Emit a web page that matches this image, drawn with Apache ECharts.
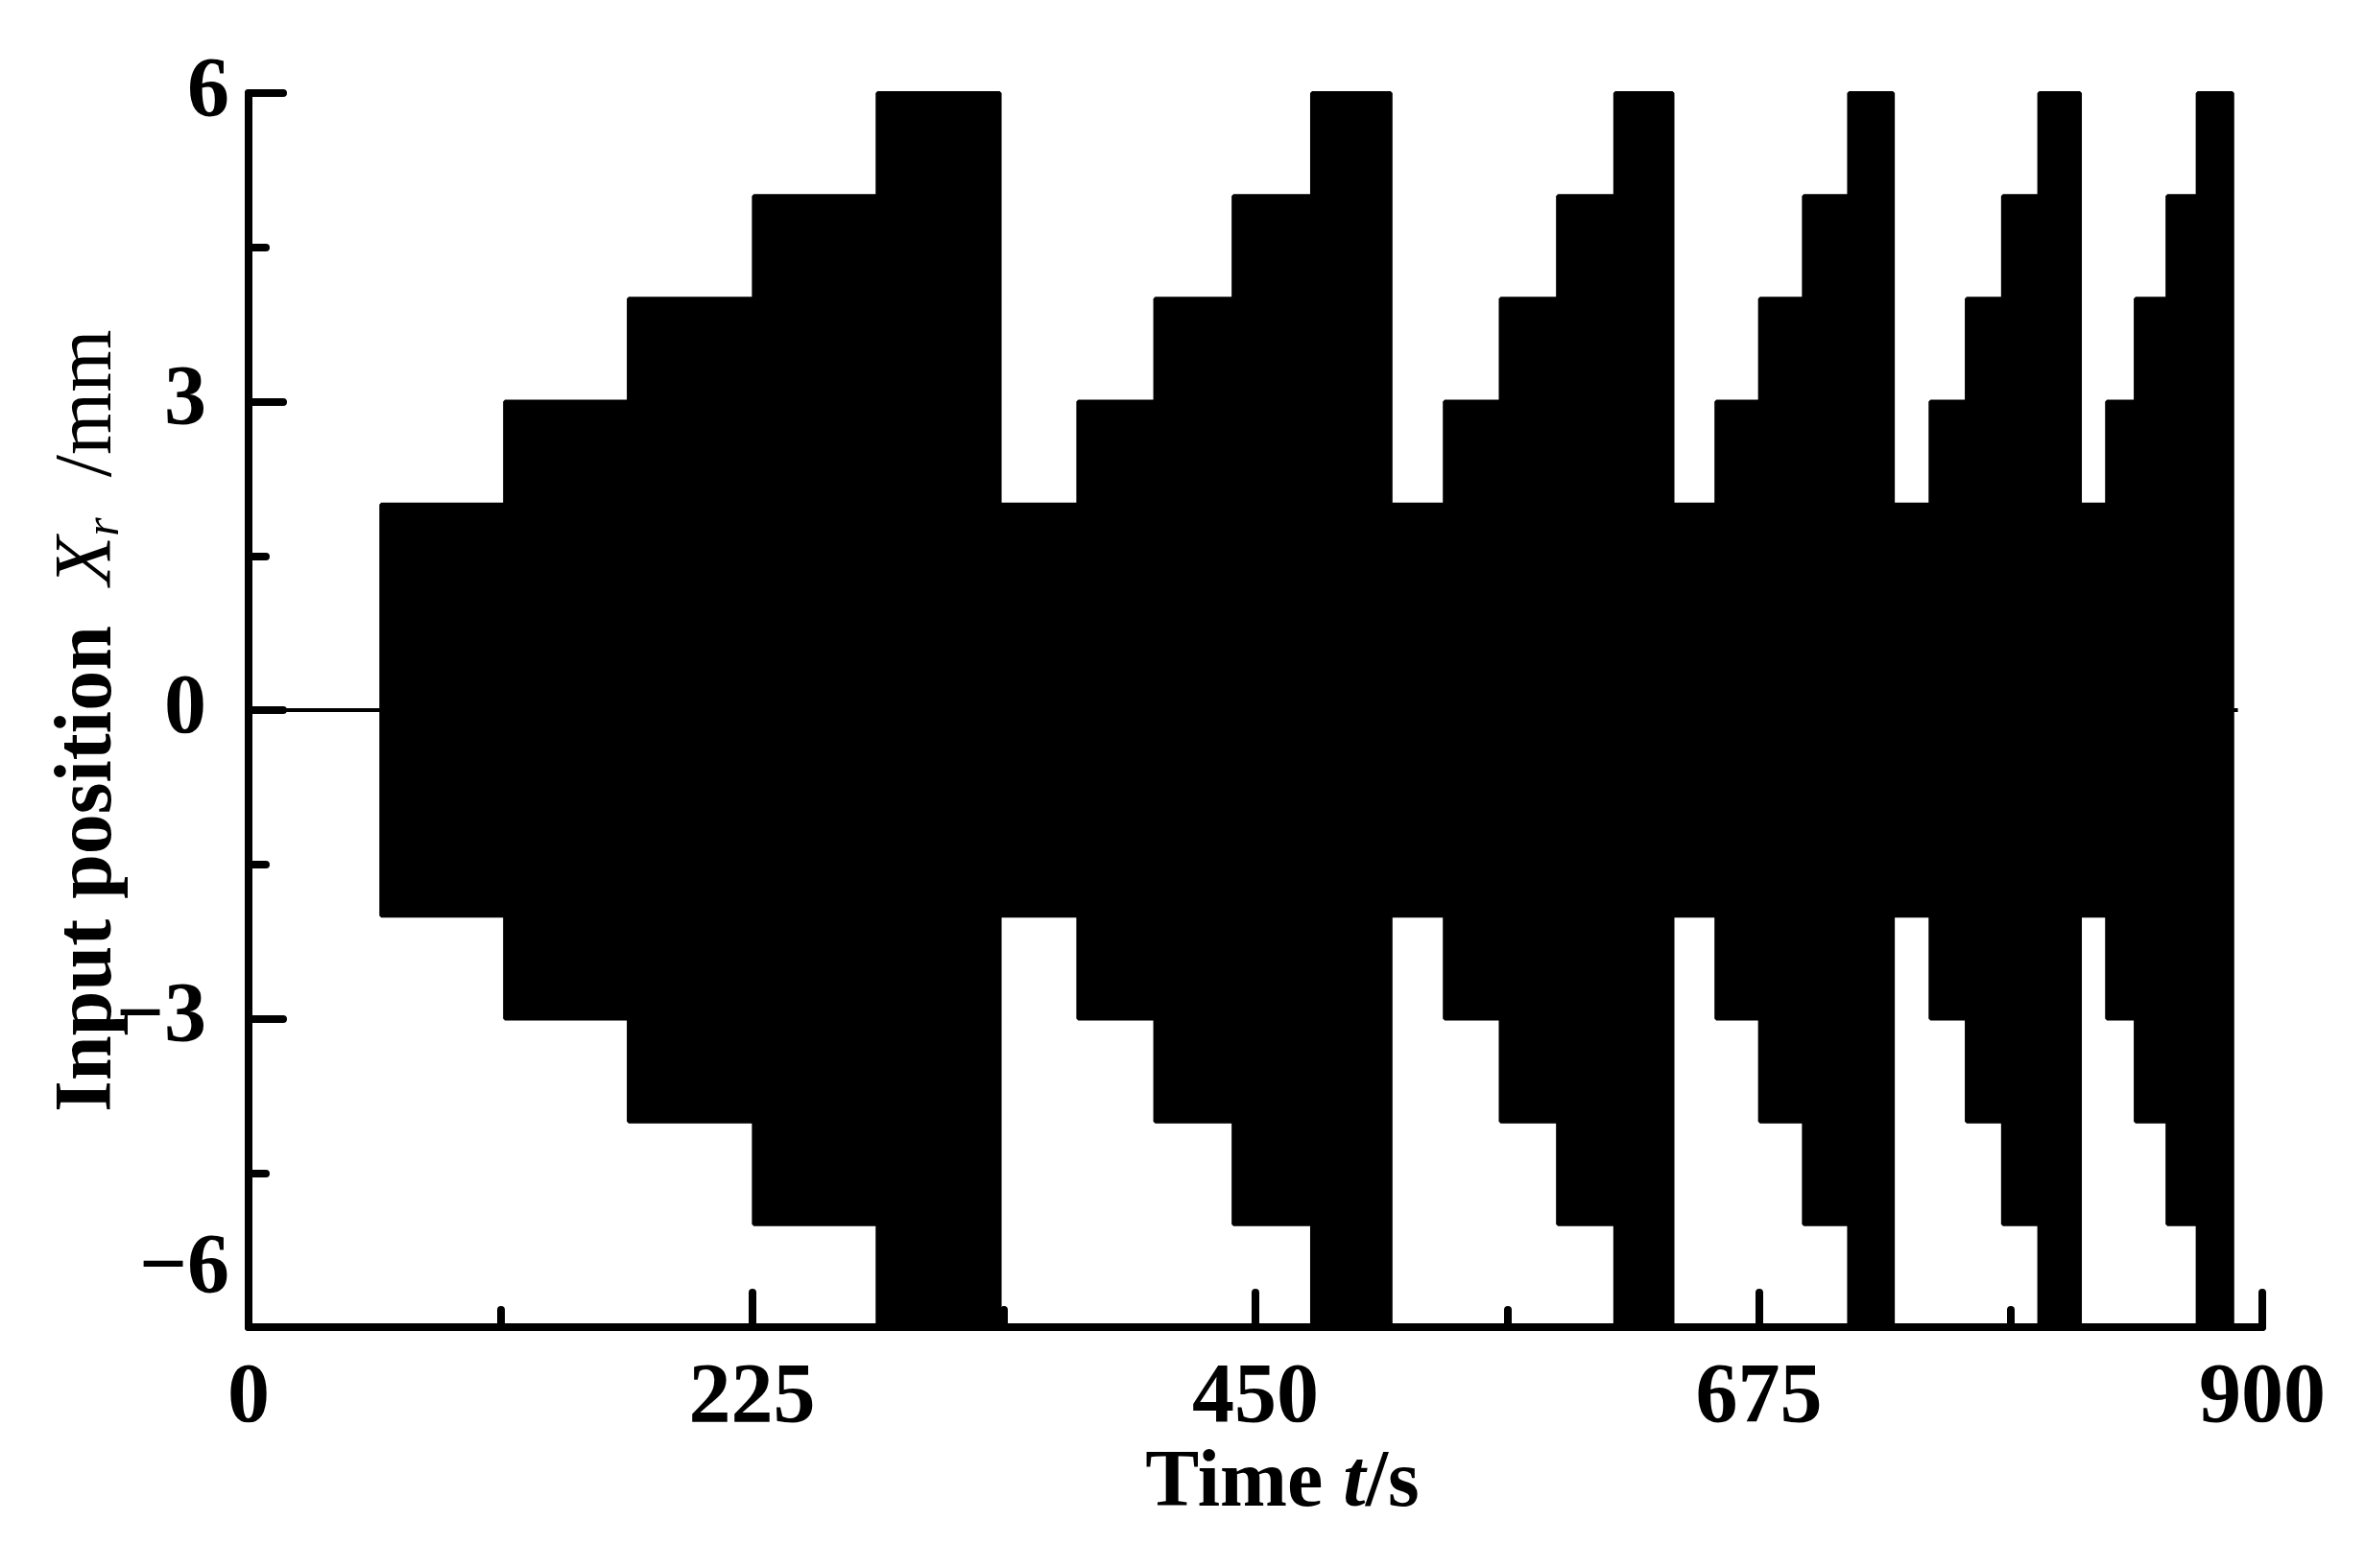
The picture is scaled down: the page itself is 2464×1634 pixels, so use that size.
<!DOCTYPE html>
<html>
<head>
<meta charset="utf-8">
<script src="https://cdn.jsdelivr.net/npm/echarts@6/dist/echarts.min.js"></script>
<style>
  html, body { margin: 0; padding: 0; background: #fff; }
  #main { width: 2464px; height: 1634px; }
</style>
</head>
<body>
<div id="main"></div>
<script>
// envelope of the input signal: each level holds from its time until the next one
var stepTimes = [0,
  59.3, 114.6, 169.9, 225.8, 281.1,
  335.7, 370.8, 405.2, 440.2, 475.3,
  510.4, 534.6, 559.6, 585.2, 610.8,
  636.4, 656.0, 675.5, 695.1, 715.3,
  734.9, 751.7, 767.9, 784.1, 800.3,
  818.5, 830.6, 843.4, 857.6, 871.1,
  886.6, 889];
var upperLevels = [0,
  2, 3, 4, 5, 6,
  2, 3, 4, 5, 6,
  2, 3, 4, 5, 6,
  2, 3, 4, 5, 6,
  2, 3, 4, 5, 6,
  2, 3, 4, 5, 6,
  0, 0];
var lowerLevels = [0,
  -2, -3, -4, -5, -6,
  -2, -3, -4, -5, -6,
  -2, -3, -4, -5, -6,
  -2, -3, -4, -5, -6,
  -2, -3, -4, -5, -6,
  -2, -3, -4, -5, -6,
  0, 0];
var xTicks = [0, 225, 450, 675, 900];
var yTicks = [-6, -3, 0, 3, 6];

var FONT = 'Liberation Serif';
var LABEL_SIZE = 88;

function pairs(xs, ys) {
  var out = [];
  for (var i = 0; i < xs.length; i++) out.push([xs[i], ys[i]]);
  return out;
}

var myChart = echarts.init(document.getElementById('main'));

var tickStyle = { color: '#000', width: 8, cap: 'round' };
var axisStyle = { color: '#000', width: 8, cap: 'round' };

myChart.setOption({
  animation: false,
  backgroundColor: '#fff',
  grid: { left: 259, right: 107, top: 97, bottom: 251 },
  xAxis: {
    type: 'value',
    min: xTicks[0],
    max: xTicks[xTicks.length - 1],
    interval: xTicks[1] - xTicks[0],
    splitLine: { show: false },
    axisLine: { onZero: false, lineStyle: axisStyle },
    axisTick: { inside: true, length: 36, lineStyle: tickStyle },
    minorTick: { show: true, splitNumber: 2, length: 18, lineStyle: tickStyle },
    axisLabel: {
      margin: 31,
      color: '#000',
      fontFamily: FONT,
      fontWeight: 'bold',
      fontSize: LABEL_SIZE
    },
    name: '{b|Time }{bi|t}{b|/s}',
    nameLocation: 'middle',
    nameGap: 122,
    nameMoveOverlap: false,
    nameTextStyle: {
      padding: [0, 0, 0, 56],
      rich: {
        b: { fontFamily: FONT, fontWeight: 'bold', fontSize: 84, color: '#000' },
        bi: { fontFamily: FONT, fontWeight: 'bold', fontStyle: 'italic', fontSize: 84, color: '#000' }
      }
    }
  },
  yAxis: {
    type: 'value',
    min: yTicks[0],
    max: yTicks[yTicks.length - 1],
    interval: yTicks[1] - yTicks[0],
    splitLine: { show: false },
    axisLine: { onZero: false, lineStyle: axisStyle },
    axisTick: { inside: true, length: 36, lineStyle: tickStyle },
    minorTick: { show: true, splitNumber: 2, length: 18, lineStyle: tickStyle },
    axisLabel: {
      margin: 20,
      color: '#000',
      fontFamily: FONT,
      fontWeight: 'bold',
      fontSize: LABEL_SIZE,
      formatter: function (v) {
        var s = v < 0 ? '\u2212' + Math.abs(v) : String(v);
        if (v === yTicks[0]) return '{lo|' + s + '}';
        if (v === yTicks[yTicks.length - 1]) return '{hi|' + s + '}';
        return '{n|' + s + '}';
      },
      rich: {
        n: { fontFamily: FONT, fontWeight: 'bold', fontSize: LABEL_SIZE, color: '#000', padding: [0, 24, 0, 0] },
        hi: { fontFamily: FONT, fontWeight: 'bold', fontSize: LABEL_SIZE, color: '#000' },
        lo: { fontFamily: FONT, fontWeight: 'bold', fontSize: LABEL_SIZE, color: '#000', padding: [0, 0, 120, 0] }
      }
    },
    name: '{b|Input position  }{i|X}{s|r}{m|  /mm}',
    nameLocation: 'middle',
    nameGap: 124,
    nameMoveOverlap: false,
    nameTextStyle: {
      padding: [0, 22, 0, 0],
      rich: {
        b: { fontFamily: FONT, fontWeight: 'bold', fontSize: 84, color: '#000' },
        i: { fontFamily: FONT, fontStyle: 'italic', fontSize: 84, color: '#000' },
        s: { fontFamily: FONT, fontStyle: 'italic', fontSize: 50, color: '#000', verticalAlign: 'bottom' },
        m: { fontFamily: FONT, fontSize: 84, color: '#000' }
      }
    }
  },
  series: [
    {
      name: 'upper',
      type: 'line',
      step: 'end',
      symbol: 'none',
      data: pairs(stepTimes, upperLevels),
      lineStyle: { color: '#000', width: 4 },
      areaStyle: { color: '#000', opacity: 1 }
    },
    {
      name: 'lower',
      type: 'line',
      step: 'end',
      symbol: 'none',
      data: pairs(stepTimes, lowerLevels),
      lineStyle: { color: '#000', width: 4 },
      areaStyle: { color: '#000', opacity: 1 }
    }
  ]
});
</script>
</body>
</html>
